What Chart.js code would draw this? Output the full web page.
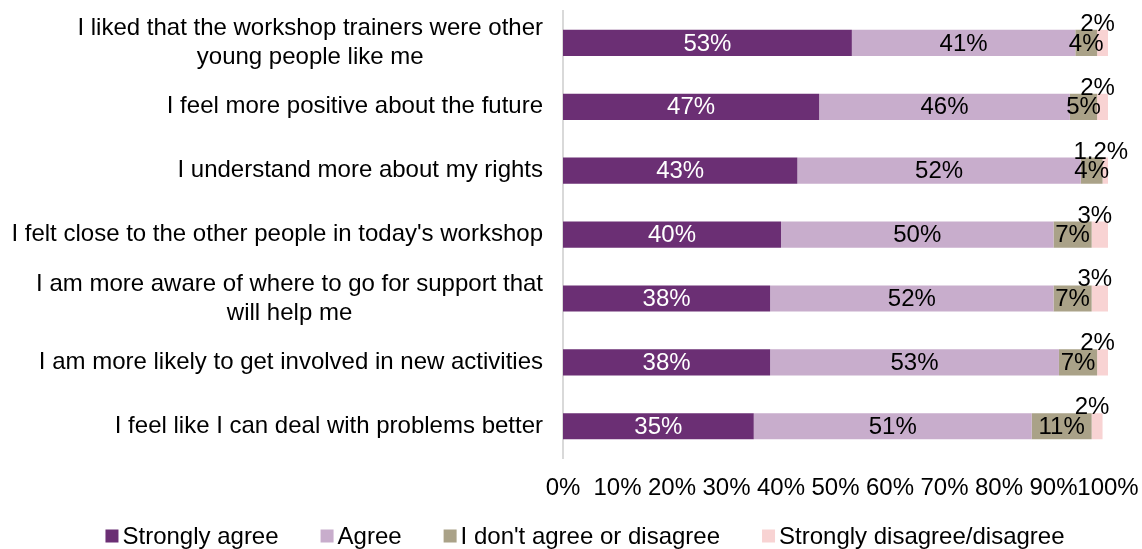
<!DOCTYPE html>
<html>
<head>
<meta charset="utf-8">
<script src="https://cdn.jsdelivr.net/npm/chart.js@4/dist/chart.umd.min.js"></script>
<style>
  html, body { margin: 0; padding: 0; background: #fff; }
  #wrap { width: 1142px; height: 549px; }
</style>
</head>
<body>
<div id="wrap"><canvas id="surveyChart" width="1142" height="549"></canvas></div>
<script>
// statements, one per bar (multi-line labels are arrays)
const statements = [
  ["I liked that the workshop trainers were other", "young people like me"],
  ["I feel more positive about the future"],
  ["I understand more about my rights"],
  ["I felt close to the other people in today's workshop"],
  ["I am more aware of where to go for support that", "will help me"],
  ["I am more likely to get involved in new activities"],
  ["I feel like I can deal with problems better"]
];

const stronglyAgree = [53, 47, 43, 40, 38, 38, 35];
const agree = [41, 46, 52, 50, 52, 53, 51];
const neutral = [4, 5, 4, 7, 7, 7, 11];
const disagree = [2, 2, 1.2, 3, 3, 2, 2];

const seriesNames = ["Strongly agree", "Agree", "I don't agree or disagree", "Strongly disagree/disagree"];
const seriesColors = ['#6b2f74', '#c8adcc', '#aaa288', '#f8d3d3'];
const xTicks = [0, 10, 20, 30, 40, 50, 60, 70, 80, 90, 100];

const FONT = "'Liberation Sans', Arial, sans-serif";
const SIZE = 24;

function pct(v) { return v + '%'; }

// labels on the bars; last series sits above the bar end
const barLabels = {
  id: 'barLabels',
  afterDatasetsDraw(chart) {
    const ctx = chart.ctx;
    ctx.save();
    ctx.font = SIZE + 'px ' + FONT;
    ctx.textAlign = 'center';
    chart.data.datasets.forEach((ds, di) => {
      const meta = chart.getDatasetMeta(di);
      meta.data.forEach((bar, i) => {
        const p = bar.getProps(['x', 'y', 'base', 'height'], true);
        const mid = (p.x + p.base) / 2;
        if (di === 3) {
          ctx.fillStyle = '#000';
          ctx.textBaseline = 'alphabetic';
          ctx.fillText(pct(ds.data[i]), mid - 5, p.y - p.height / 2 + 1);
        } else {
          ctx.fillStyle = di === 0 ? '#fff' : '#000';
          ctx.textBaseline = 'middle';
          ctx.fillText(pct(ds.data[i]), mid, p.y + 1);
        }
      });
    });
    ctx.restore();
  }
};

// statement text left of the axis: block right-aligned, lines centred within it
const statementLabels = {
  id: 'statementLabels',
  afterDraw(chart) {
    const ctx = chart.ctx;
    const yScale = chart.scales.y;
    const right = chart.chartArea.left - 20;
    const lineH = 29;
    ctx.save();
    ctx.font = SIZE + 'px ' + FONT;
    ctx.fillStyle = '#000';
    ctx.textAlign = 'center';
    ctx.textBaseline = 'middle';
    statements.forEach((lines, i) => {
      const w = Math.max(...lines.map(l => ctx.measureText(l).width));
      const cx = right - w / 2;
      const y0 = yScale.getPixelForValue(i) - (lines.length - 1) * lineH / 2;
      lines.forEach((l, k) => ctx.fillText(l, cx, y0 + k * lineH));
    });
    ctx.restore();
  }
};

// legend row along the bottom
const bottomLegend = {
  id: 'bottomLegend',
  afterDraw(chart) {
    const ctx = chart.ctx;
    const box = 13, gapText = 4, gapItem = 42;
    const y = chart.height - 13;
    ctx.save();
    ctx.font = SIZE + 'px ' + FONT;
    const widths = chart.data.datasets.map(ds => ctx.measureText(ds.label).width);
    const total = widths.reduce((a, w) => a + box + gapText + w, 0) + gapItem * (widths.length - 1);
    let x = chart.width / 2 + 14 - total / 2;
    ctx.textBaseline = 'middle';
    ctx.textAlign = 'left';
    chart.data.datasets.forEach((ds, i) => {
      ctx.fillStyle = ds.backgroundColor;
      ctx.fillRect(x, y - box / 2, box, box);
      ctx.fillStyle = '#000';
      ctx.fillText(ds.label, x + box + gapText, y + 1);
      x += box + gapText + widths[i] + gapItem;
    });
    ctx.restore();
  }
};

new Chart(document.getElementById('surveyChart'), {
  type: 'bar',
  data: {
    labels: statements.map(s => s.join(' ')),
    datasets: [
      { label: seriesNames[0], data: stronglyAgree, backgroundColor: seriesColors[0] },
      { label: seriesNames[1], data: agree, backgroundColor: seriesColors[1] },
      { label: seriesNames[2], data: neutral, backgroundColor: seriesColors[2] },
      { label: seriesNames[3], data: disagree, backgroundColor: seriesColors[3] }
    ]
  },
  options: {
    indexAxis: 'y',
    responsive: false,
    animation: false,
    layout: { padding: { top: 11, right: 34, bottom: 30, left: 0 } },
    datasets: {
      bar: { barPercentage: 0.41, categoryPercentage: 1, borderWidth: 0 }
    },
    plugins: {
      legend: { display: false },
      tooltip: { enabled: false }
    },
    scales: {
      x: {
        stacked: true,
        min: 0,
        max: 100,
        afterBuildTicks(scale) { scale.ticks = xTicks.map(v => ({ value: v })); },
        afterFit(scale) { scale.paddingLeft = 0; scale.paddingRight = 0; },
        grid: { display: false, drawTicks: false },
        border: { display: false },
        ticks: {
          color: '#000',
          font: { family: FONT, size: SIZE },
          padding: 16,
          maxRotation: 0,
          autoSkip: false,
          callback: v => v + '%'
        }
      },
      y: {
        stacked: true,
        grid: { display: false, drawTicks: false },
        border: { display: true, color: '#d9d9d9', width: 2 },
        ticks: { display: false },
        afterFit(scale) { scale.width = 563; }
      }
    }
  },
  plugins: [barLabels, statementLabels, bottomLegend]
});
</script>
</body>
</html>
